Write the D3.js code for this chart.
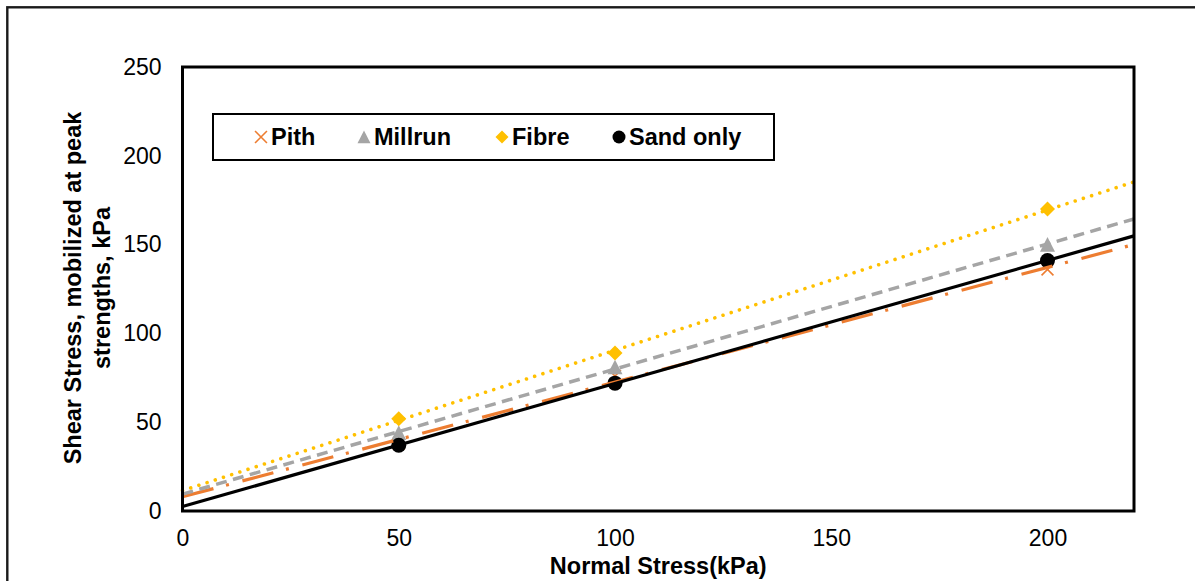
<!DOCTYPE html>
<html>
<head>
<meta charset="utf-8">
<script src="https://cdn.jsdelivr.net/npm/d3@7"></script>
<style>
  html, body { margin: 0; padding: 0; background: #fff; }
  svg { display: block; font-family: "Liberation Sans", Arial, sans-serif; }
</style>
</head>
<body>
<svg id="chart" width="1195" height="581"></svg>
<script>
// Normal stress levels of the direct shear tests (kPa)
const normalStress = [50, 100, 200];

// Peak shear stress for each mixture (kPa)
const pith     = [38, 76, 136];
const millrun  = [44, 81, 150];
const fibre    = [52, 89, 170];
const sandOnly = [37, 72, 141];

const xTicks = [0, 50, 100, 150, 200];
const yTicks = [0, 50, 100, 150, 200, 250];

const series = [
  { name: "Pith",      values: pith,     color: "#ED7D31", symbol: "cross",    dash: "32 13 3 14", cap: "butt",  width: 3.2 },
  { name: "Millrun",   values: millrun,  color: "#A5A5A5", symbol: "triangle", dash: "11 6.5",     cap: "butt",  width: 3.5 },
  { name: "Fibre",     values: fibre,    color: "#FFC000", symbol: "diamond",  dash: "0.01 8.6",   cap: "round", width: 3.6 },
  { name: "Sand only", values: sandOnly, color: "#000000", symbol: "circle",   dash: null,         cap: "butt",  width: 3.2 }
];

const svg = d3.select("#chart");
const plot = { left: 182.5, right: 1134, top: 67, bottom: 511 };

const x = d3.scaleLinear().domain([0, 220]).range([plot.left, plot.right]);
const y = d3.scaleLinear().domain([0, 250]).range([plot.bottom, plot.top]);

// Outer chart frame
svg.append("rect")
  .attr("x", 7.3).attr("y", 7.3).attr("width", 1210).attr("height", 620)
  .attr("fill", "none").attr("stroke", "#1a1a1a").attr("stroke-width", 2.4);

// Least-squares linear trend for a series
function linearFit(xs, ys) {
  const mx = d3.mean(xs), my = d3.mean(ys);
  let sxy = 0, sxx = 0;
  xs.forEach((xv, i) => { sxy += (xv - mx) * (ys[i] - my); sxx += (xv - mx) ** 2; });
  const slope = sxy / sxx;
  return { slope, intercept: my - slope * mx };
}

function markerPath(symbol, size) {
  const h = size / 2;
  if (symbol === "triangle") {
    return `M0,${-h} L${h},${h * 0.95} L${-h},${h * 0.95} Z`;
  }
  if (symbol === "diamond") {
    return `M0,${-h} L${h},0 L0,${h} L${-h},0 Z`;
  }
  if (symbol === "cross") {
    const c = h * 0.85;
    return `M${-c},${-c} L${c},${c} M${-c},${c} L${c},${-c}`;
  }
  return null;
}

function drawMarker(g, s, size) {
  if (s.symbol === "circle") {
    g.append("circle").attr("r", size / 2).attr("fill", s.color);
  } else if (s.symbol === "cross") {
    g.append("path").attr("d", markerPath("cross", size))
      .attr("fill", "none").attr("stroke", s.color).attr("stroke-width", 1.6);
  } else {
    g.append("path").attr("d", markerPath(s.symbol, size)).attr("fill", s.color);
  }
}

// Data markers
const markers = svg.append("g");
series.forEach(s => {
  s.values.forEach((v, i) => {
    const g = markers.append("g")
      .attr("transform", `translate(${x(normalStress[i])},${y(v)})`);
    drawMarker(g, s, s.symbol === "cross" ? 14 : 15);
  });
});

// Trend lines across the full x range
const lineOrder = ["Pith", "Millrun", "Fibre", "Sand only"];
const trends = svg.append("g");
lineOrder.forEach(name => {
  const s = series.find(d => d.name === name);
  const fit = linearFit(normalStress, s.values);
  const [x0, x1] = x.domain();
  const line = d3.line().x(d => x(d[0])).y(d => y(d[1]));
  trends.append("path")
    .attr("d", line([[x0, fit.intercept], [x1, fit.intercept + fit.slope * x1]]))
    .attr("fill", "none")
    .attr("stroke", s.color)
    .attr("stroke-width", s.width)
    .attr("stroke-linecap", s.cap)
    .attr("stroke-dasharray", s.dash);
});

// Plot area border
svg.append("rect")
  .attr("x", plot.left).attr("y", plot.top)
  .attr("width", plot.right - plot.left).attr("height", plot.bottom - plot.top)
  .attr("fill", "none").attr("stroke", "#000").attr("stroke-width", 3);

// Axes (labels only, the frame acts as axis line)
const xAxis = svg.append("g")
  .attr("transform", `translate(0,${plot.bottom})`)
  .call(d3.axisBottom(x).tickValues(xTicks).tickSize(0).tickPadding(19));
const yAxis = svg.append("g")
  .attr("transform", `translate(${plot.left},0)`)
  .call(d3.axisLeft(y).tickValues(yTicks).tickSize(0).tickPadding(21));
[xAxis, yAxis].forEach(a => {
  a.select(".domain").remove();
  a.selectAll("text")
    .attr("font-family", "'Liberation Sans', Arial, sans-serif")
    .attr("font-size", 23).attr("fill", "#000");
});

// Axis titles
svg.append("text")
  .attr("x", (plot.left + plot.right) / 2).attr("y", 574)
  .attr("text-anchor", "middle")
  .attr("font-size", 23.5).attr("font-weight", "bold")
  .text("Normal Stress(kPa)");

const yTitle = svg.append("text")
  .attr("transform", "translate(0,288) rotate(-90)")
  .attr("text-anchor", "middle")
  .attr("font-size", 23.5).attr("font-weight", "bold");
yTitle.append("tspan").attr("x", 0).attr("y", 81).text("Shear Stress, mobilized at peak");
yTitle.append("tspan").attr("x", 0).attr("y", 110).text("strengths, kPa");

// Legend
const legend = svg.append("g");
legend.append("rect")
  .attr("x", 213).attr("y", 114).attr("width", 561).attr("height", 46)
  .attr("fill", "#fff").attr("stroke", "#000").attr("stroke-width", 2);
const legendX = [261, 364, 502, 619];
series.forEach((s, i) => {
  const g = legend.append("g").attr("transform", `translate(${legendX[i]},137)`);
  drawMarker(g, s, s.symbol === "cross" ? 14 : 13);
  legend.append("text")
    .attr("x", legendX[i] + 10).attr("y", 145)
    .attr("font-size", 23.5).attr("font-weight", "bold")
    .text(s.name);
});
</script>
</body>
</html>
